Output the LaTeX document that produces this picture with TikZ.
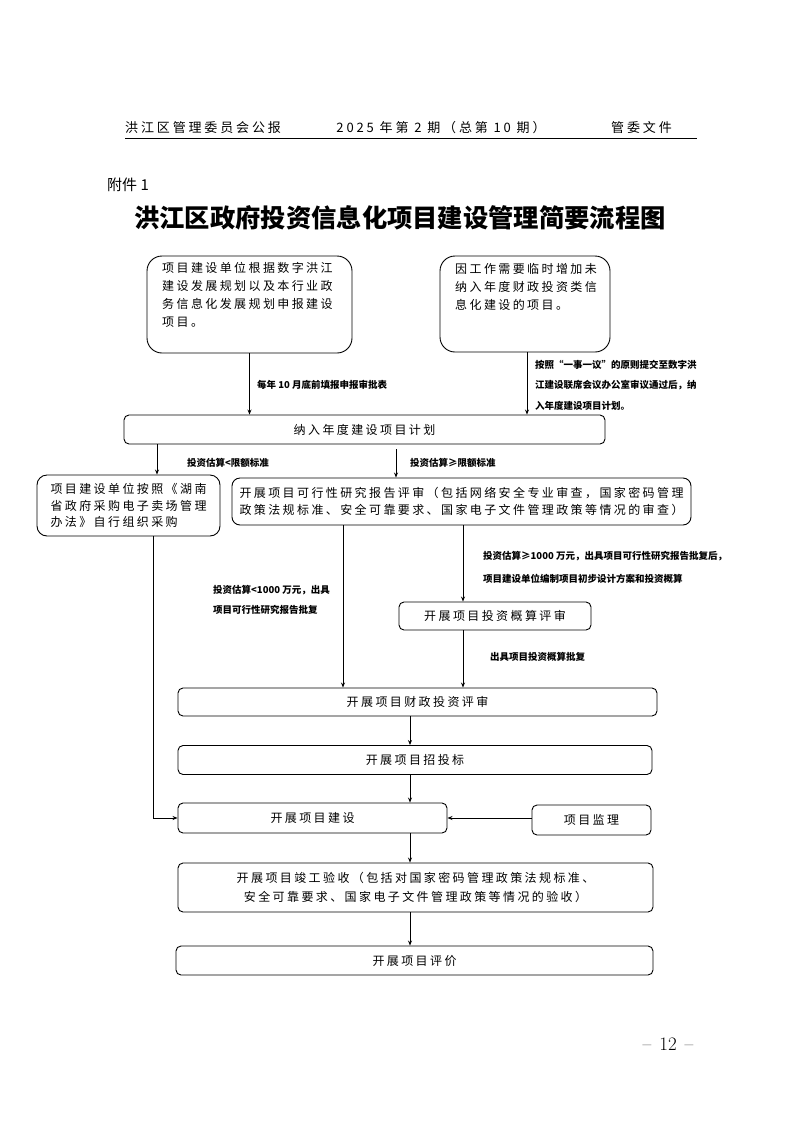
\documentclass[tikz,border=0pt]{standalone}
\usepackage{fontspec}
\usetikzlibrary{arrows.meta,calc}
\newfontfamily\cjk{Noto Sans CJK SC}
\newfontfamily\cjkls[LetterSpace=20]{Noto Sans CJK SC}
\newfontfamily\cjkhd[LetterSpace=22]{Noto Sans CJK SC}
\tikzset{
  flowbox/.style={draw, line width=0.9pt, rounded corners=5pt, inner sep=0pt,
    font=\cjkls\fontsize{12}{17}\selectfont, align=center},
  bigbox/.style={draw, line width=0.9pt, rounded corners=15pt, inner sep=0pt},
  boxtext/.style={inner sep=0pt, font=\cjkls\fontsize{12}{18}\selectfont, align=left},
  lbl/.style={inner sep=0pt, anchor=west, align=left, font=\cjk\bfseries\fontsize{9.5}{20}\selectfont},
  arr/.style={line width=0.9pt, -{Stealth[length=5pt,width=4pt]}},
  hdr/.style={inner sep=0pt, font=\cjkhd\fontsize{13}{13}\selectfont}
}
\begin{document}
\begin{tikzpicture}[x=1pt,y=-1pt]
\useasboundingbox (0,0) rectangle (793,1122);
\fill[white] (0,0) rectangle (793,1122);
% header
\node[hdr, anchor=west] (h1) at (125,128) {洪江区管理委员会公报};
\node[hdr] (h2) at (441,128) {2025 年第 2 期（总第 10 期）};
\node[hdr, anchor=west] (h3) at (611,128) {管委文件};
\draw[line width=1.2pt] (125,138.5) coordinate (hl) -- (697,138.5) coordinate (hr);
\node[inner sep=0pt, anchor=west, font=\cjk\fontsize{15}{15}\selectfont] (att) at (107,185) {附件 1};
\node[inner sep=0pt, font=\cjk\bfseries\fontsize{25.3}{26}\selectfont] (title) at (400,218) {洪江区政府投资信息化项目建设管理简要流程图};

% top boxes
\node[bigbox, minimum width=205pt, minimum height=97pt] (a) at (249.5,304.5) {};
\node[boxtext, anchor=north west] (at) at (162,262) {项目建设单位根据数字洪江\\建设发展规划以及本行业政\\务信息化发展规划申报建设\\项目。};
\node[bigbox, minimum width=170pt, minimum height=96pt] (b) at (525,304) {};
\node[boxtext, anchor=north west] (bt) at (455,263) {因工作需要临时增加未\\纳入年度财政投资类信\\息化建设的项目。};

\node[flowbox, minimum width=481pt, minimum height=29pt] (p) at (364.5,429.5) {纳入年度建设项目计划};

\node[flowbox, rounded corners=10pt, align=left, minimum width=183pt, minimum height=61pt, font=\cjkls\fontsize{12}{16.5}\selectfont] (c) at (128.5,505.5) {项目建设单位按照《湖南\\省政府采购电子卖场管理\\办法》自行组织采购};
\node[flowbox, rounded corners=8pt, align=left, minimum width=459pt, minimum height=47pt, font=\cjkls\fontsize{12}{16.5}\selectfont] (d) at (461.5,501.5) {开展项目可行性研究报告评审（包括网络安全专业审查，国家密码管理\\政策法规标准、安全可靠要求、国家电子文件管理政策等情况的审查）};

\node[flowbox, minimum width=192pt, minimum height=28pt] (e) at (495,616) {开展项目投资概算评审};
\node[flowbox, minimum width=479pt, minimum height=28pt] (f) at (417.5,702) {开展项目财政投资评审};
\node[flowbox, minimum width=474pt, minimum height=29pt] (g) at (415,760) {开展项目招投标};
\node[flowbox, minimum width=269pt, minimum height=30pt] (h) at (312.5,818) {开展项目建设};
\node[flowbox, minimum width=119pt, minimum height=30pt] (i) at (591.5,820) {项目监理};
\node[flowbox, minimum width=475pt, minimum height=49pt, font=\cjkls\fontsize{12}{19}\selectfont] (j) at (415.5,887.5) {开展项目竣工验收（包括对国家密码管理政策法规标准、\\安全可靠要求、国家电子文件管理政策等情况的验收）};
\node[flowbox, minimum width=477pt, minimum height=29pt] (k) at (414.5,960.5) {开展项目评价};

% helper x positions
\coordinate (xc) at (157,0);
\coordinate (xd) at (396,0);
\coordinate (xl) at (153,0);
\coordinate (xf1) at (343,0);
\coordinate (xe) at (463,0);
\coordinate (xm) at (410,0);
\coordinate (xb) at (527,0);

% connectors
\draw[arr] (a.south) -- (a.south |- p.north);
\draw[arr] (xb |- b.south) -- (xb |- p.north);
\draw[arr] (xc |- p.south) -- (xc |- c.north);
\draw[arr] ([yshift=-5pt]xd |- p.south) -- (xd |- d.north);
\draw[arr] (xf1 |- d.south) -- (xf1 |- f.north);
\draw[arr] (xe |- d.south) -- (xe |- e.north);
\draw[arr] (xe |- e.south) -- (xe |- f.north);
\draw[arr] (xm |- f.south) -- (xm |- g.north);
\draw[arr] (xm |- g.south) -- (xm |- h.north);
\draw[arr] (i.west |- h.east) -- (h.east);
\draw[arr] (xl |- c.south) |- (h.west);
\draw[arr] (xm |- h.south) -- (xm |- j.north);
\draw[arr] (xm |- j.south) -- (xm |- k.north);

% labels
\node[lbl] (l1) at (257,385) {每年 10 月底前填报申报审批表};
\node[lbl, anchor=north west, font=\cjk\bfseries\fontsize{9.5}{20.5}\selectfont] (l2) at (535,360) {按照“一事一议”的原则提交至数字洪\\江建设联席会议办公室审议通过后，纳\\入年度建设项目计划。};
\node[lbl] (l3) at (187,463) {投资估算<限额标准};
\node[lbl] (l4) at (410,463) {投资估算≥限额标准};
\node[lbl, font=\cjk\bfseries\fontsize{9.5}{23}\selectfont] (l5) at (483,567.5) {投资估算≥1000 万元，出具项目可行性研究报告批复后，\\项目建设单位编制项目初步设计方案和投资概算};
\node[lbl] (l6) at (213,600) {投资估算<1000 万元，出具\\项目可行性研究报告批复};
\node[lbl] (l7) at (490,657) {出具项目投资概算批复};

% page number
\node[inner sep=0pt, font=\fontsize{19}{19}\selectfont] (pg) at (668,1044) {–\hspace{8pt}12\hspace{8pt}–};
\end{tikzpicture}
\end{document}
